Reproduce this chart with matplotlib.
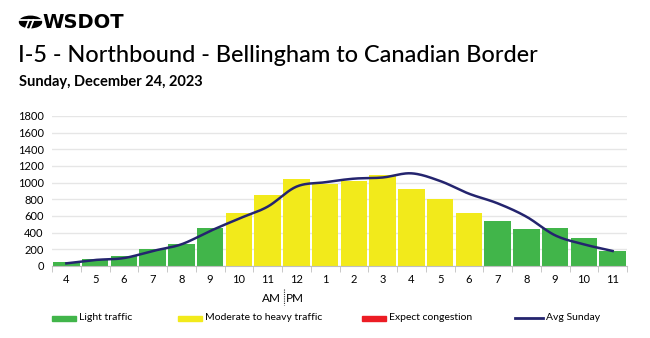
import numpy as np
import matplotlib
matplotlib.use("Agg")
from matplotlib import pyplot as plt
from matplotlib.patches import Circle, Rectangle
from matplotlib.lines import Line2D

plt.rcParams['font.family'] = ['Lato', 'DejaVu Sans']

# data
hours = ['4', '5', '6', '7', '8', '9', '10', '11', '12', '1', '2', '3',
         '4', '5', '6', '7', '8', '9', '10', '11']
volume = [50, 80, 125, 200, 260, 455, 635, 848, 1040, 980, 1025, 1095,
          920, 800, 632, 545, 440, 455, 336, 184]
level = ['light', 'light', 'light', 'light', 'light', 'light', 'moderate',
         'moderate', 'moderate', 'moderate', 'moderate', 'moderate',
         'moderate', 'moderate', 'moderate', 'light', 'light', 'light',
         'light', 'light']
avg_sunday = [32, 72, 95, 180, 260, 420, 568, 712, 952, 1005, 1048, 1062,
              1112, 1020, 868, 752, 592, 368, 260, 180]

colors = {'light': '#41b54a', 'moderate': '#f2ea1b', 'heavy': '#ec1c24'}
navy = '#24246e'


def smooth(xs, ys, n=20):
    # Catmull-Rom style smoothing like a spreadsheet "smoothed line"
    xs = np.asarray(xs, float)
    ys = np.asarray(ys, float)
    px = np.concatenate([[2 * xs[0] - xs[1]], xs, [2 * xs[-1] - xs[-2]]])
    py = np.concatenate([[2 * ys[0] - ys[1]], ys, [2 * ys[-1] - ys[-2]]])
    outx, outy = [], []
    t = np.linspace(0, 1, n, endpoint=False)
    for i in range(1, len(px) - 2):
        for arr, out in ((px, outx), (py, outy)):
            p0, p1, p2, p3 = arr[i - 1], arr[i], arr[i + 1], arr[i + 2]
            out.extend(0.5 * ((2 * p1) + (-p0 + p2) * t
                              + (2 * p0 - 5 * p1 + 4 * p2 - p3) * t ** 2
                              + (-p0 + 3 * p1 - 3 * p2 + p3) * t ** 3))
    outx.append(xs[-1])
    outy.append(ys[-1])
    return np.array(outx), np.array(outy)


W, H = 650, 338


def fx(px):
    return px / W


def fy(py):
    return 1 - py / H


fig = plt.figure(figsize=(6.5, 3.38), dpi=100)
ax = fig.add_axes([fx(52), 72 / H, 575 / W, 150 / H])

x = np.arange(len(hours))
ax.bar(x, volume, width=0.93, color=[colors[l] for l in level], zorder=2)
sx, sy = smooth(x, avg_sunday)
ax.plot(sx, sy, color=navy, lw=1.8, zorder=3)

ax.set_xlim(-0.5, len(hours) - 0.5)
ax.set_ylim(0, 1800)
ax.set_yticks(range(0, 1801, 200))
ax.grid(axis='y', color='#e6e6e6', lw=1, zorder=0)
ax.set_xticks(x)
ax.set_xticklabels(hours)
ax.set_xticks(np.arange(-0.5, len(hours)), minor=True)
ax.tick_params(axis='x', which='major', length=0, pad=6, labelsize=8)
ax.tick_params(axis='x', which='minor', length=4, color='#bfbfbf')
ax.tick_params(axis='y', length=0, pad=6, labelsize=8)
for s in ['top', 'right', 'left']:
    ax.spines[s].set_visible(False)
ax.spines['bottom'].set_color('#bfbfbf')

# AM | PM marker
fig.text(fx(281), fy(298), 'AM', ha='right', va='center', fontsize=8.5)
fig.text(fx(286), fy(298), 'PM', ha='left', va='center', fontsize=8.5)
fig.add_artist(Line2D([fx(283.5), fx(283.5)], [fy(289), fy(305)],
                      color='#333333', lw=0.8, ls=(0, (1, 1))))

# header logo
fig.add_artist(Circle((fx(30.5), fy(22)), 11 / W, transform=fig.transFigure,
                      color='black'))
fig.add_artist(Line2D([fx(20), fx(41)], [fy(20), fy(20)], color='white', lw=1.3))
fig.add_artist(Line2D([fx(29), fx(24)], [fy(20), fy(33)], color='white', lw=1.3))
fig.add_artist(Line2D([fx(33.5), fx(28.5)], [fy(20), fy(33)], color='white', lw=1.3))
fig.text(fx(42), fy(23), 'WSDOT', fontsize=14, fontweight='heavy',
         va='center', ha='left', family='DejaVu Sans')

fig.text(fx(18), fy(55), 'I-5 - Northbound - Bellingham to Canadian Border',
         fontsize=16.9, fontweight='medium', va='center', ha='left')
fig.text(fx(19), fy(82), 'Sunday, December 24, 2023',
         fontsize=10.5, fontweight='bold', va='center', ha='left')

# legend
ly = fy(318)
items = [(52, 'light', 'Light traffic'), (178, 'moderate', 'Moderate to heavy traffic'),
         (362, 'heavy', 'Expect congestion')]
for px, key, label in items:
    fig.add_artist(Rectangle((fx(px), ly - 2.5 / H), 24 / W, 5 / H,
                             transform=fig.transFigure, color=colors[key]))
    fig.text(fx(px + 27), ly, label, fontsize=7.5, va='center', ha='left')
fig.add_artist(Line2D([fx(515), fx(543)], [ly, ly], color=navy, lw=2))
fig.text(fx(546), ly, 'Avg Sunday', fontsize=7.5, va='center', ha='left')

fig.savefig('out.png', dpi=100)
